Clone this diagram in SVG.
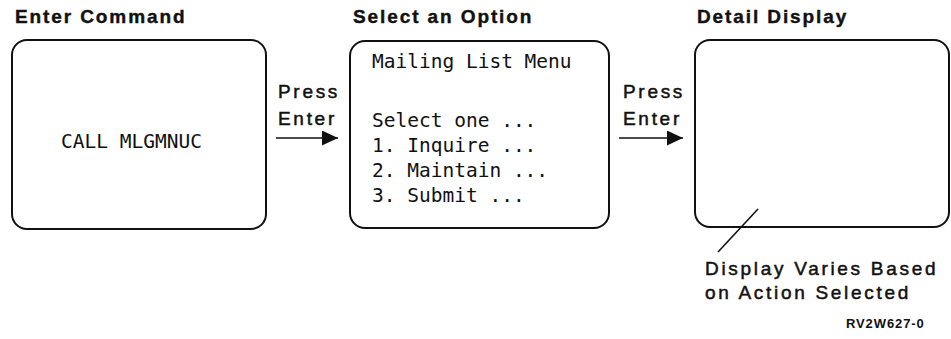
<svg xmlns="http://www.w3.org/2000/svg" width="951" height="339" viewBox="0 0 951 339">
  <style>
    .box { fill: none; stroke: #111; stroke-width: 2; }
    .title { font-family: "Liberation Sans", Arial, sans-serif; font-weight: bold; font-size: 19px; letter-spacing: 1.9px; fill: #111; stroke: #111; stroke-width: 0.4; }
    .lbl { font-family: "Liberation Sans", Arial, sans-serif; font-size: 19px; letter-spacing: 2.7px; fill: #111; stroke: #111; stroke-width: 0.5; }
    .scr { font-family: "DejaVu Sans Mono", "Liberation Mono", monospace; font-size: 19.5px; fill: #111; }
    .conn { stroke: #111; stroke-width: 1.6; fill: none; }
    .ref { font-family: "Liberation Sans", Arial, sans-serif; font-weight: bold; font-size: 13px; letter-spacing: 0.9px; fill: #111; }
  </style>
  <defs>
    <marker id="ah" markerUnits="userSpaceOnUse" markerWidth="18" markerHeight="16" refX="16" refY="7.5" orient="auto">
      <path d="M0,0 L16,7.5 L0,15 Z" fill="#111"/>
    </marker>
  </defs>
  <rect width="951" height="339" fill="#fff"/>

  <g id="node-enter-command">
    <text class="title" x="15" y="23">Enter Command</text>
    <rect class="box" x="12" y="40" width="254" height="189" rx="15"/>
    <text class="scr" x="61" y="148">CALL MLGMNUC</text>
  </g>

  <g id="node-select-option">
    <text class="title" x="353" y="23">Select an Option</text>
    <rect class="box" x="350" y="41" width="259" height="187" rx="15"/>
    <text class="scr" x="372" y="68">Mailing List Menu</text>
    <text class="scr" x="372" y="127">Select one ...</text>
    <text class="scr" x="372" y="152">1. Inquire ...</text>
    <text class="scr" x="372" y="177">2. Maintain ...</text>
    <text class="scr" x="372" y="202">3. Submit ...</text>
  </g>

  <g id="node-detail-display">
    <text class="title" x="697" y="23">Detail Display</text>
    <rect class="box" x="695" y="40" width="254" height="187" rx="15"/>
  </g>

  <g id="connectors">
    <text class="lbl" x="278" y="98">Press</text>
    <text class="lbl" x="278" y="125">Enter</text>
    <line class="conn" x1="276" y1="138" x2="338" y2="138" marker-end="url(#ah)"/>
    <text class="lbl" x="623" y="98">Press</text>
    <text class="lbl" x="623" y="125">Enter</text>
    <line class="conn" x1="619" y1="138" x2="683" y2="138" marker-end="url(#ah)"/>
    <line class="conn" x1="758" y1="209" x2="718" y2="252"/>
  </g>

  <g id="note">
    <text class="lbl" x="705" y="275">Display Varies Based</text>
    <text class="lbl" x="705" y="299">on Action Selected</text>
  </g>
  <text class="ref" x="846" y="328">RV2W627-0</text>
</svg>
